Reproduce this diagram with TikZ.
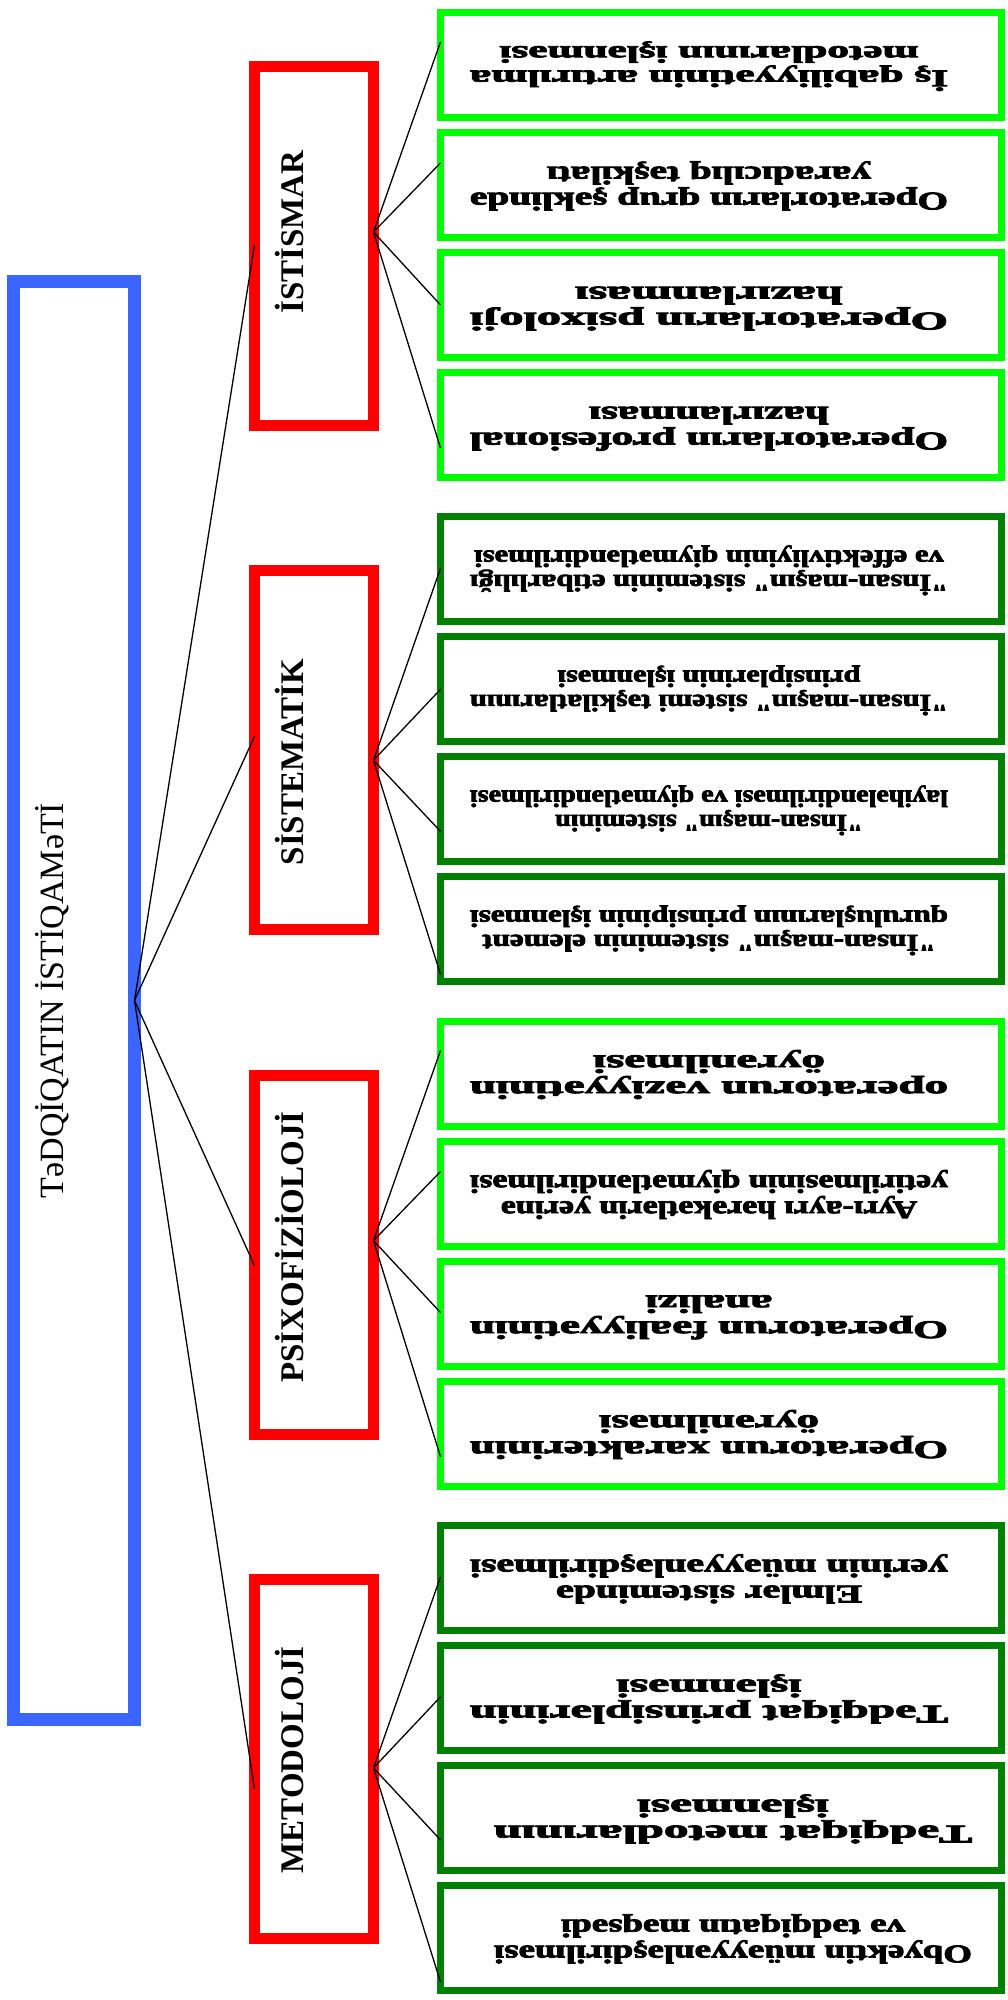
\documentclass[tikz,border=0pt]{standalone}
\usepackage{fontspec}
\setmainfont{Liberation Serif}
\newfontfamily\itemfont[Ligatures=TeXOff, BoldFeatures={FakeBold=3}]{Liberation Serif}
\usepackage{graphicx}
\usetikzlibrary{calc}

\definecolor{frameblue}{HTML}{3A66FF}
\definecolor{framered}{HTML}{FF0000}
\definecolor{itemlight}{HTML}{00FF00}
\definecolor{itemdark}{HTML}{008000}

% two-line caption stretched to fill the inner area of an item box
\newcommand\boxtext[1]{\resizebox*{478pt}{52pt}{\itemfont\bfseries\renewcommand\arraystretch{0.85}\begin{tabular}{@{}c@{}}#1\end{tabular}}}

\begin{document}
\begin{tikzpicture}[x=1pt,y=-1pt,
  mainbox/.style={draw=frameblue, line width=13pt, minimum width=121pt, minimum height=1438pt, inner sep=0pt, outer sep=0pt},
  groupbox/.style={draw=framered, line width=11pt, minimum width=119pt, minimum height=359pt, inner sep=0pt, outer sep=0pt},
  itembox/.style={draw=#1, line width=7pt, minimum width=561pt, minimum height=105pt, inner sep=0pt, outer sep=0pt},
  itemtext/.style={rotate=180, inner sep=0pt},
  grouplabel/.style={rotate=90, anchor=base, inner sep=0pt, font=\fontsize{33}{40}\selectfont\bfseries},
  mainlabel/.style={rotate=90, anchor=base, inner sep=0pt, font=\fontsize{34}{40}\selectfont},
  link/.style={line width=1.3pt, black}
]
\useasboundingbox (0,0) rectangle (1008,2000);

% main direction box
\node[mainbox] (main) at (74,1000.5) {};
\node[mainlabel] (mainname) at (63,1000.5) {TəDQİQATIN İSTİQAMəTİ};

% four group boxes
\node[groupbox] (g1) at (314,246) {};
\node[groupbox] (g2) at (314,750.3) {};
\node[groupbox] (g3) at (314,1254.6) {};
\node[groupbox] (g4) at (314,1758.9) {};
\node[grouplabel] (g1name) at (303.6,232) {İSTİSMAR};
\node[grouplabel] (g2name) at (303.6,762) {SİSTEMATİK};
\node[grouplabel] (g3name) at (303.6,1247) {PSİXOFİZİOLOJİ};
\node[grouplabel] (g4name) at (303.6,1760) {METODOLOJİ};

% item boxes
\node[itembox=itemlight] (i1)  at (721,65) {};
\node[itembox=itemlight] (i2)  at (721,185) {};
\node[itembox=itemlight] (i3)  at (721,305) {};
\node[itembox=itemlight] (i4)  at (721,425) {};
\node[itembox=itemdark]  (i5)  at (721,569.3) {};
\node[itembox=itemdark]  (i6)  at (721,689.3) {};
\node[itembox=itemdark]  (i7)  at (721,809.3) {};
\node[itembox=itemdark]  (i8)  at (721,929.3) {};
\node[itembox=itemlight] (i9)  at (721,1073.6) {};
\node[itembox=itemlight] (i10) at (721,1193.6) {};
\node[itembox=itemlight] (i11) at (721,1313.6) {};
\node[itembox=itemlight] (i12) at (721,1433.6) {};
\node[itembox=itemdark]  (i13) at (721,1577.9) {};
\node[itembox=itemdark]  (i14) at (721,1697.9) {};
\node[itembox=itemdark]  (i15) at (721,1817.9) {};
\node[itembox=itemdark]  (i16) at (721,1937.9) {};

% item captions (printed upside down)
\node[itemtext] (t1)  at ($(i1.center)+(-12,0)$)  {\boxtext{İş qabiliyyətinin artırılma\\metodlarının işlənməsi}};
\node[itemtext] (t2)  at ($(i2.center)+(-12,0)$)  {\boxtext{Operatorların qrup şəklində\\yaradıcılıq təşkilatı}};
\node[itemtext] (t3)  at ($(i3.center)+(-12,0)$)  {\boxtext{Operatorların psixoloji\\hazırlanması}};
\node[itemtext] (t4)  at ($(i4.center)+(-12,0)$)  {\boxtext{Operatorların profesional\\hazırlanması}};
\node[itemtext] (t5)  at ($(i5.center)+(-12,0)$)  {\boxtext{"İnsan-maşın" sisteminin etibarlılığı\\və effektivliyinin qiymətləndirilməsi}};
\node[itemtext] (t6)  at ($(i6.center)+(-12,0)$)  {\boxtext{"İnsan-maşın" sistemi təşkilatlarının\\prinsiplərinin işlənməsi}};
\node[itemtext] (t7)  at ($(i7.center)+(-12,0)$)  {\boxtext{"İnsan-maşın" sisteminin\\layihələndirilməsi və qiymətləndirilməsi}};
\node[itemtext] (t8)  at ($(i8.center)+(-12,0)$)  {\boxtext{"İnsan-maşın" sisteminin element\\quruluşlarının prinsipinin işlənməsi}};
\node[itemtext] (t9)  at ($(i9.center)+(-12,0)$)  {\boxtext{operatorun vəziyyətinin\\öyrənilməsi}};
\node[itemtext] (t10) at ($(i10.center)+(-12,0)$) {\boxtext{Ayrı-ayrı hərəkətlərin yerinə\\yetirilməsinin qiymətləndirilməsi}};
\node[itemtext] (t11) at ($(i11.center)+(-12,0)$) {\boxtext{Operatorun fəaliyyətinin\\analizi}};
\node[itemtext] (t12) at ($(i12.center)+(-12,0)$) {\boxtext{Operatorun xarakterinin\\öyrənilməsi}};
\node[itemtext] (t13) at ($(i13.center)+(-12,0)$) {\boxtext{Elmlər sistemində\\yerinin müəyyənləşdirilməsi}};
\node[itemtext] (t14) at ($(i14.center)+(-12,0)$) {\boxtext{Tədqiqat prinsiplərinin\\işlənməsi}};
\node[itemtext] (t15) at ($(i15.center)+(12,0)$)  {\boxtext{Tədqiqat metodlarının\\işlənməsi}};
\node[itemtext] (t16) at ($(i16.center)+(12,0)$)  {\boxtext{Obyektin müəyyənləşdirilməsi\\və tədqiqatın məqsədi}};

% connectors from the main box to the groups
\draw[link] (main.east) -- ($(g1.west)+(0,-1)$);
\draw[link] (main.east) -- ($(g2.west)+(0,-14)$);
\draw[link] (main.east) -- ($(g3.west)+(0,11)$);
\draw[link] (main.east) -- ($(g4.west)+(0,30)$);

% fan points on the right side of each group box
\coordinate (h1) at ($(g1.east)+(0,-14)$);
\coordinate (h2) at ($(g2.east)+(0,10)$);
\coordinate (h3) at ($(g3.east)+(0,-14)$);
\coordinate (h4) at ($(g4.east)+(0,9)$);

% connectors from each group to its items
\draw[link] (h1) -- ($(i1.north west)!0.28!(i1.south west)$);
\draw[link] (h1) -- ($(i2.north west)!0.29!(i2.south west)$);
\draw[link] (h1) -- ($(i3.north west)!0.50!(i3.south west)$);
\draw[link] (h1) -- ($(i4.north west)!0.72!(i4.south west)$);
\draw[link] (h2) -- ($(i5.north west)!0.49!(i5.south west)$);
\draw[link] (h2) -- ($(i6.north west)!0.50!(i6.south west)$);
\draw[link] (h2) -- ($(i7.north west)!0.71!(i7.south west)$);
\draw[link] (h2) -- ($(i8.north west)!0.93!(i8.south west)$);
\draw[link] (h3) -- ($(i9.north west)!0.28!(i9.south west)$);
\draw[link] (h3) -- ($(i10.north west)!0.29!(i10.south west)$);
\draw[link] (h3) -- ($(i11.north west)!0.49!(i11.south west)$);
\draw[link] (h3) -- ($(i12.north west)!0.72!(i12.south west)$);
\draw[link] (h4) -- ($(i13.north west)!0.49!(i13.south west)$);
\draw[link] (h4) -- ($(i14.north west)!0.49!(i14.south west)$);
\draw[link] (h4) -- ($(i15.north west)!0.71!(i15.south west)$);
\draw[link] (h4) -- ($(i16.north west)!0.92!(i16.south west)$);
\end{tikzpicture}
\end{document}
